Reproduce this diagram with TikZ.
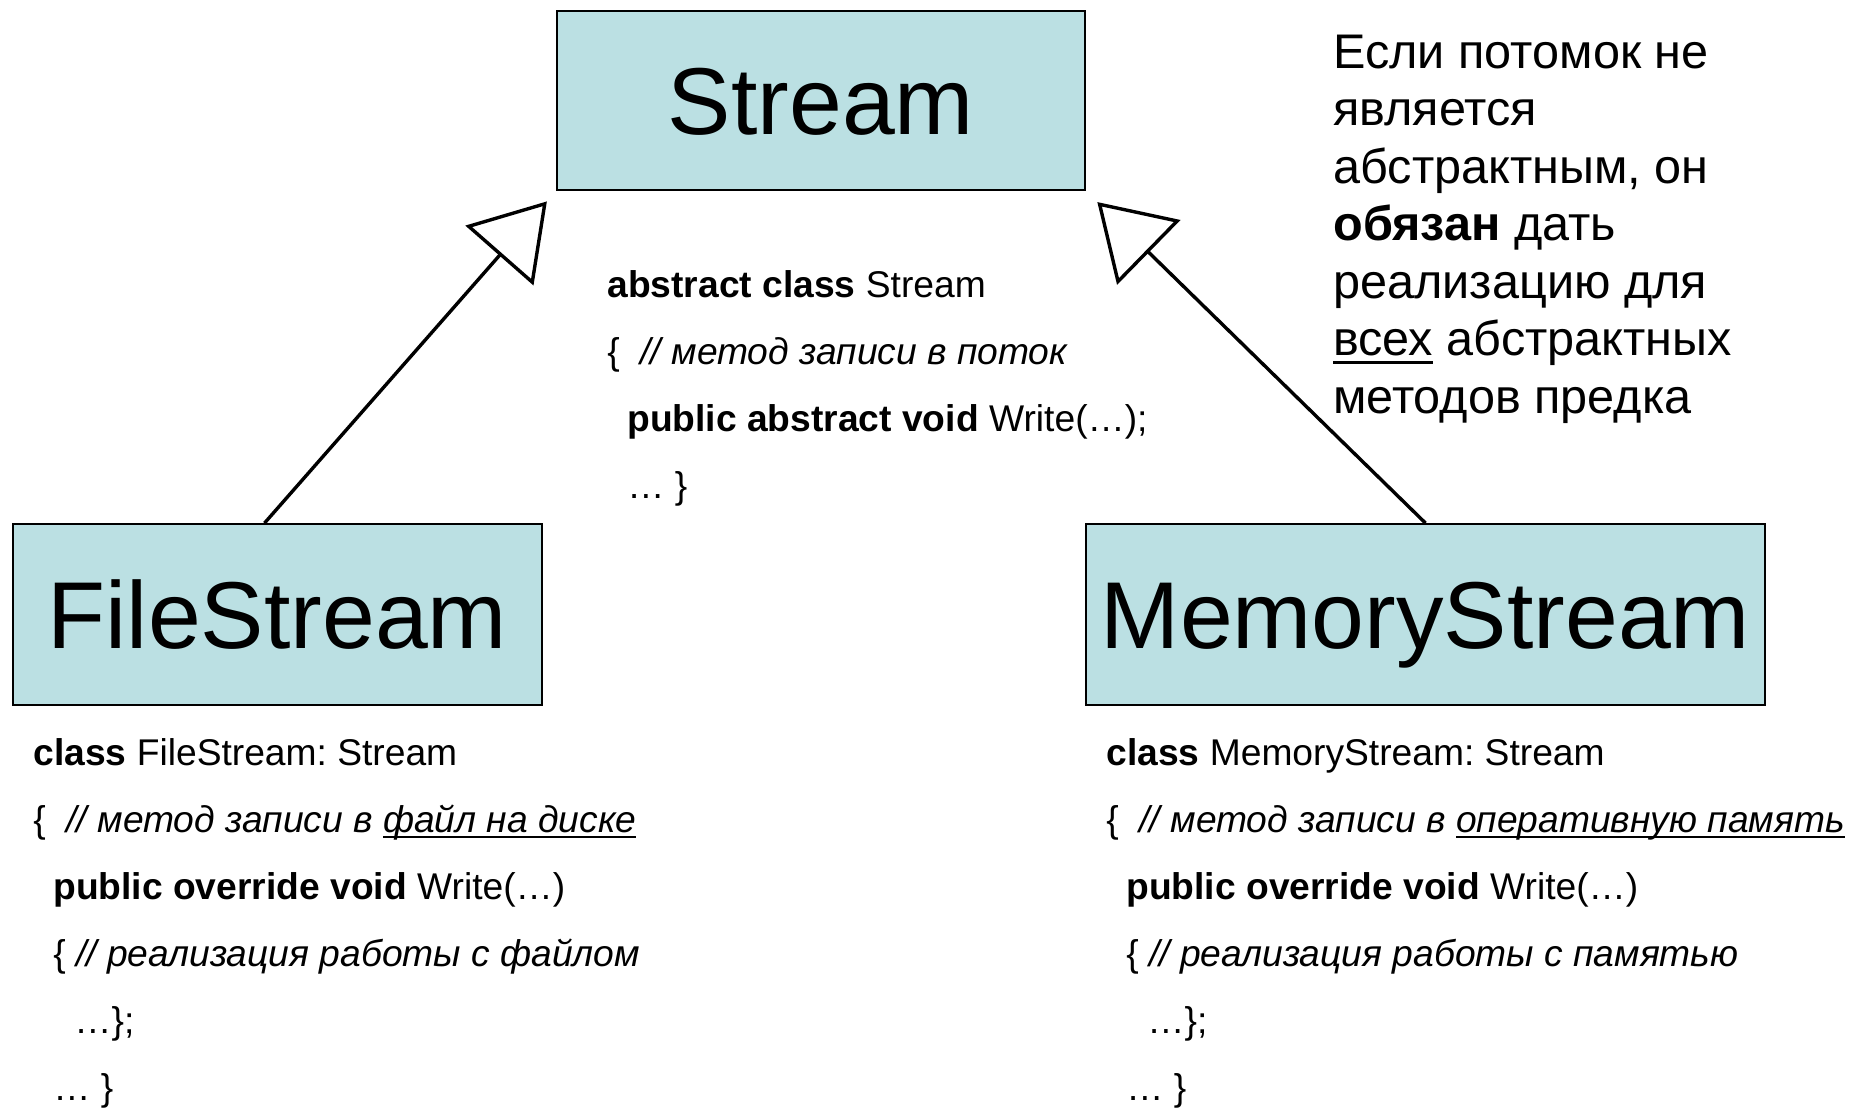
\documentclass[tikz,border=0pt]{standalone}
\usepackage{fontspec}
\setmainfont{Liberation Sans}
\frenchspacing
\usetikzlibrary{arrows.meta,positioning}
\definecolor{clsfill}{RGB}{187,224,227}
\newcommand{\ulin}[1]{\setbox0\hbox{#1}\rlap{\rule[-0.17em]{\wd0}{0.05em}}\box0\relax}
\tikzset{
	cls/.style={draw,fill=clsfill,line width=0.9pt,inner sep=0pt,font=\fontsize{47.5}{57}\selectfont,text height=34pt,text depth=0pt},
	code/.style={anchor=base west,align=left,inner sep=0pt,font=\fontsize{18.6}{33.5}\selectfont},
	note/.style={anchor=base west,align=left,inner sep=0pt,font=\fontsize{24.3}{28.75}\selectfont},
	inh/.style={-{Triangle[open,length=36pt,width=45pt]},line width=1.7pt}
}
\begin{document}
\begin{tikzpicture}[x=0.5pt,y=-0.5pt]
	\useasboundingbox (0,0) rectangle (1863,1108);
	\node[cls,minimum width=264pt,minimum height=89.5pt] (st) at (821,100.5) {Stream};
	\node[cls,minimum width=264.5pt,minimum height=90.5pt] (fs) at (277.5,614.5) {FileStream};
	\node[cls,minimum width=339.5pt,minimum height=90.5pt] (ms) at (1425.5,614.5) {MemoryStream};
	% code blocks, placed by the baseline of their last line
	\node[code] (stcode) at (607,498) {\textbf{abstract class} Stream\\
		\{\ \ \textit{// метод записи в поток}\\
		\hspace*{10pt}\textbf{public abstract void} Write(…);\\
		\hspace*{10pt}… \}};
	\node[code] (fscode) at (33,1100) {\textbf{class} FileStream: Stream\\
		\{\ \ \textit{// метод записи в \ulin{файл на диске}}\\
		\hspace*{10pt}\textbf{public override void} Write(…)\\
		\hspace*{10pt}\{ \textit{// реализация работы с файлом}\\
		\hspace*{20.5pt}…\};\\
		\hspace*{10pt}… \}};
	\node[code] (mscode) at (1106,1100) {\textbf{class} MemoryStream: Stream\\
		\{\ \ \textit{// метод записи в \ulin{оперативную память}}\\
		\hspace*{10pt}\textbf{public override void} Write(…)\\
		\hspace*{10pt}\{ \textit{// реализация работы с памятью}\\
		\hspace*{20.5pt}…\};\\
		\hspace*{10pt}… \}};
	\node[note] (rule) at (1333,413) {Если потомок не\\является\\абстрактным, он\\\textbf{обязан} дать\\реализацию для\\\ulin{всех} абстрактных\\методов предка};
	% inheritance arrows
	\draw[inh,shorten >=7pt] ([xshift=-6.5pt]fs.north) -- (st.south west);
	\draw[inh,shorten >=8pt] (ms.north) -- (st.south east);
\end{tikzpicture}
\end{document}
